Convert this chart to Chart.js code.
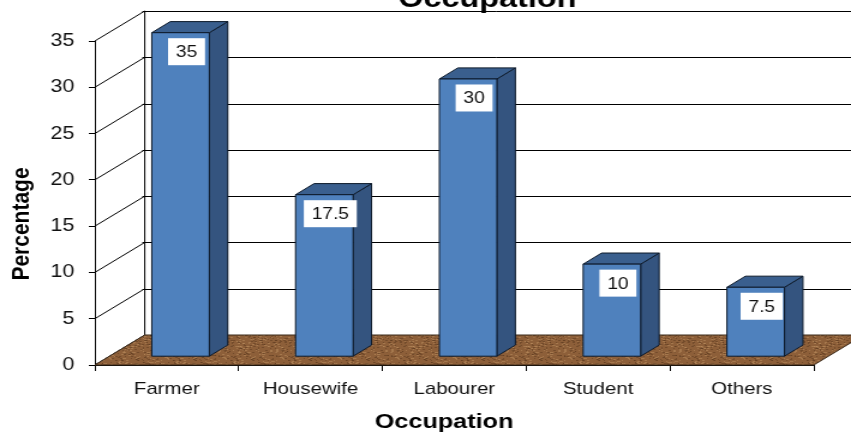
<!DOCTYPE html>
<html>
<head>
<meta charset="utf-8">
<script src="https://cdn.jsdelivr.net/npm/chart.js@4.4.0/dist/chart.umd.min.js"></script>
<style>
  html, body { margin: 0; padding: 0; background: #fff; overflow: hidden; }
  /* the source picture is stretched sideways, so the canvas is too */
  #chart { display: block; width: 709px; height: 434px; transform: scaleX(1.2003); transform-origin: 0 0; }
</style>
</head>
<body>
<canvas id="chart" width="709" height="434"></canvas>
<script>
const categories = ['Farmer', 'Housewife', 'Labourer', 'Student', 'Others'];
const percentages = [35, 17.5, 30, 10, 7.5];
const yMin = 0;
const yMax = 35;
const yStep = 5;
const chartTitle = 'Occupation';
const xTitle = 'Occupation';
const yTitle = 'Percentage';

// 3D offsets in canvas px
const WALL = { dx: 41.6, dy: -30 };
const BAR_FRONT = { dx: 11.5, dy: -8.3 };
const BAR_DEPTH = { dx: 15.4, dy: -11.1 };

const FONT = "'Liberation Sans', Arial, sans-serif";
Chart.defaults.font.family = FONT;
Chart.defaults.color = '#111';

function line(ctx, x1, y1, x2, y2) {
  ctx.beginPath();
  ctx.moveTo(x1, y1);
  ctx.lineTo(x2, y2);
  ctx.stroke();
}

function poly(ctx, pts, fill, stroke) {
  ctx.beginPath();
  ctx.moveTo(pts[0][0], pts[0][1]);
  for (let i = 1; i < pts.length; i++) ctx.lineTo(pts[i][0], pts[i][1]);
  ctx.closePath();
  ctx.fillStyle = fill;
  ctx.fill();
  ctx.strokeStyle = stroke;
  ctx.stroke();
}

// wood-ish floor texture, fixed seed so it is the same every run
function floorPattern(ctx) {
  const c = document.createElement('canvas');
  c.width = 48; c.height = 48;
  const g = c.getContext('2d');
  g.fillStyle = '#8d5f39';
  g.fillRect(0, 0, 48, 48);
  let seed = 11;
  const rnd = () => (seed = (seed * 16807) % 2147483647) / 2147483647;
  for (let i = 0; i < 520; i++) {
    g.fillStyle = rnd() < 0.5 ? 'rgba(185,140,95,0.55)' : 'rgba(90,56,30,0.5)';
    g.fillRect(Math.floor(rnd() * 48), Math.floor(rnd() * 48), 1 + Math.floor(rnd() * 2), 1);
  }
  return ctx.createPattern(c, 'repeat');
}

const box3d = {
  id: 'box3d',
  beforeDatasetsDraw(chart) {
    const { ctx, chartArea: a, scales: { y } } = chart;
    const W = chart.width;
    ctx.save();
    ctx.lineWidth = 1;
    ctx.strokeStyle = '#000';

    // back wall lines and the diagonals on the left wall
    y.ticks.forEach(t => {
      const py = y.getPixelForValue(t.value);
      line(ctx, a.left, py, a.left + WALL.dx, py + WALL.dy);
      if (t.value > yMin) {
        const yy = Math.round(py + WALL.dy) + 0.5;
        line(ctx, a.left + WALL.dx - 2, yy, W, yy);
      }
    });
    line(ctx, a.left + WALL.dx, a.top + WALL.dy, a.left + WALL.dx, a.bottom + WALL.dy);

    // floor
    poly(ctx, [
      [a.left, a.bottom],
      [a.right, a.bottom],
      [a.right + WALL.dx, a.bottom + WALL.dy],
      [a.left + WALL.dx, a.bottom + WALL.dy]
    ], floorPattern(ctx), '#3b2a1b');

    // bars
    const meta = chart.getDatasetMeta(0);
    meta.data.forEach((el, i) => {
      const xl = el.x - el.width / 2 + BAR_FRONT.dx;
      const xr = el.x + el.width / 2 + BAR_FRONT.dx;
      const yt = el.y + BAR_FRONT.dy;
      const yb = el.base + BAR_FRONT.dy;
      ctx.lineWidth = 1;
      poly(ctx, [[xr, yb], [xr, yt], [xr + BAR_DEPTH.dx, yt + BAR_DEPTH.dy], [xr + BAR_DEPTH.dx, yb + BAR_DEPTH.dy]], '#34547f', '#0d1a2b');
      poly(ctx, [[xl, yt], [xr, yt], [xr + BAR_DEPTH.dx, yt + BAR_DEPTH.dy], [xl + BAR_DEPTH.dx, yt + BAR_DEPTH.dy]], '#3a5f8e', '#0d1a2b');
      poly(ctx, [[xl, yt], [xr, yt], [xr, yb], [xl, yb]], '#4f81bd', '#0d1a2b');

      // value label in a white box
      const txt = String(percentages[i]);
      ctx.font = '16px ' + FONT;
      const tw = ctx.measureText(txt).width;
      const cx = (xl + xr) / 2 + 5;
      const cy = yt + 19;
      const bw = tw + 13, bh = 27;
      ctx.fillStyle = '#fff';
      ctx.fillRect(cx - bw / 2, cy - bh / 2, bw, bh);
      ctx.fillStyle = '#111';
      ctx.textAlign = 'center';
      ctx.textBaseline = 'middle';
      ctx.fillText(txt, cx, cy + 1);
    });
    ctx.restore();
    return false;
  },
  afterDraw(chart) {
    const { ctx } = chart;
    ctx.save();
    ctx.fillStyle = '#000';
    ctx.textAlign = 'center';
    ctx.textBaseline = 'alphabetic';
    ctx.font = 'bold 27px ' + FONT;
    ctx.fillText(chartTitle, 406, 7);
    ctx.font = 'bold 21px ' + FONT;
    ctx.fillText(xTitle, 370, 428);
    ctx.translate(18.5, 224);
    ctx.rotate(-Math.PI / 2);
    ctx.textBaseline = 'middle';
    ctx.fillText(yTitle, 0, 0);
    ctx.restore();
  }
};

new Chart(document.getElementById('chart'), {
  type: 'bar',
  data: {
    labels: categories,
    datasets: [{
      label: 'Percentage',
      data: percentages,
      backgroundColor: '#4f81bd',
      categoryPercentage: 1,
      barPercentage: 0.4
    }]
  },
  options: {
    responsive: false,
    devicePixelRatio: 1,
    animation: false,
    layout: { padding: { left: 0, right: 31, top: 41, bottom: 0 } },
    plugins: {
      legend: { display: false },
      tooltip: { enabled: false },
      title: { display: false }
    },
    scales: {
      x: {
        z: 1,
        offset: true,
        afterFit: s => { s.height = 69; },
        grid: { drawOnChartArea: false, drawTicks: true, tickLength: 6, offset: true, color: '#000' },
        border: { display: true, color: '#000', width: 1 },
        ticks: { font: { size: 17 }, color: '#111', padding: 8, maxRotation: 0, autoSkip: false }
      },
      y: {
        z: 1,
        min: yMin,
        max: yMax,
        afterFit: s => { s.width = 79; },
        grid: { drawOnChartArea: false, drawTicks: true, tickLength: 5, color: '#000' },
        border: { display: true, color: '#000', width: 1 },
        ticks: { stepSize: yStep, font: { size: 18 }, color: '#111', padding: 12 }
      }
    }
  },
  plugins: [box3d]
});
</script>
</body>
</html>
